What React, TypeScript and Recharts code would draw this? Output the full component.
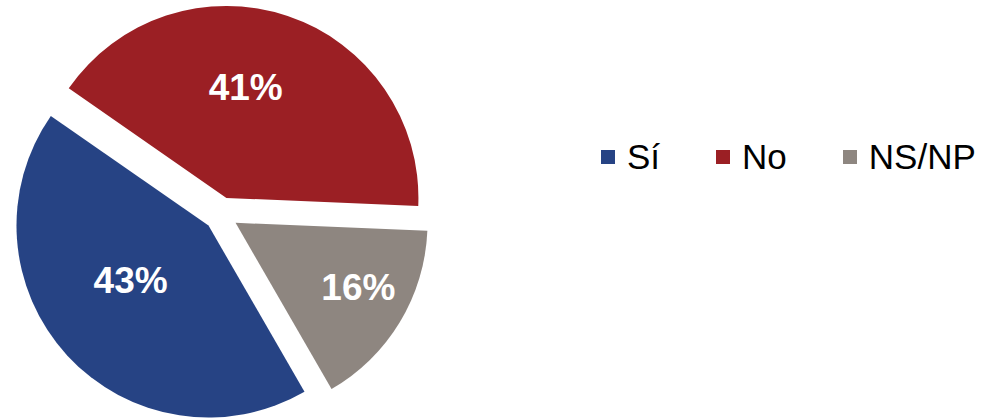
import { PieChart, Pie, Legend, Sector } from 'recharts'

const CATEGORIES = ['Sí', 'No', 'NS/NP']
const VALUES = [43, 41, 16]
const COLORS = ['#264384', '#9B1F24', '#8E8680']

const data = CATEGORIES.map((name, i) => ({ name, value: VALUES[i] }))

const FONT = '"Liberation Sans", Arial, sans-serif'
const RADIAN = Math.PI / 180
const EXPLODE = 17
// label placement tweaks per slice (radius fraction, angle nudge), to sit like the original
const LABEL_R = [0.495, 0.583, 0.724]
const LABEL_NUDGE = [-7.6, 8.7, 3.3]

// draw each slice pushed out along its mid angle, plus its percent label
const renderSlice = (p: any) => {
  const { cx, cy, outerRadius, startAngle, endAngle, midAngle, index, value } = p
  const ox = cx + EXPLODE * Math.cos(-midAngle * RADIAN)
  const oy = cy + EXPLODE * Math.sin(-midAngle * RADIAN)
  const lr = outerRadius * LABEL_R[index]
  const la = midAngle + LABEL_NUDGE[index]
  const lx = ox + lr * Math.cos(-la * RADIAN)
  const ly = oy + lr * Math.sin(-la * RADIAN)
  return (
    <g key={`s-${index}`}>
      <Sector cx={ox} cy={oy} innerRadius={0} outerRadius={outerRadius}
        startAngle={startAngle} endAngle={endAngle} fill={COLORS[index]} stroke="none" />
      <text x={lx} y={ly} fill="#fff" fontSize={37} fontWeight="bold" fontFamily={FONT}
        textAnchor="middle" dominantBaseline="central">{`${value}%`}</text>
    </g>
  )
}

const renderLegend = () => (
  <div style={{ display: 'flex', alignItems: 'center', fontFamily: FONT, fontSize: 35, color: '#000' }}>
    {CATEGORIES.map((c, i) => (
      <div key={c} style={{ display: 'flex', alignItems: 'center', marginRight: i < CATEGORIES.length - 1 ? 56 : 0 }}>
        <span style={{ width: 14, height: 14, background: COLORS[i], display: 'inline-block', marginRight: 12 }} />
        <span style={{ lineHeight: '36px' }}>{c}</span>
      </div>
    ))}
  </div>
)

export default function App() {
  return (
    <div style={{ position: 'absolute', left: 0, top: 0, background: '#fff' }}>
      <PieChart width={983} height={418} margin={{ top: 0, right: 0, bottom: 0, left: 0 }}>
        <Pie data={data} dataKey="value" nameKey="name" cx={221} cy={214} outerRadius={192}
          startAngle={-60} endAngle={-420} fill="transparent" stroke="none"
          label={renderSlice} labelLine={false} isAnimationActive={false} />
        <Legend content={renderLegend} wrapperStyle={{ position: 'absolute', left: 601, top: 139, width: 'auto' }} />
      </PieChart>
    </div>
  )
}
